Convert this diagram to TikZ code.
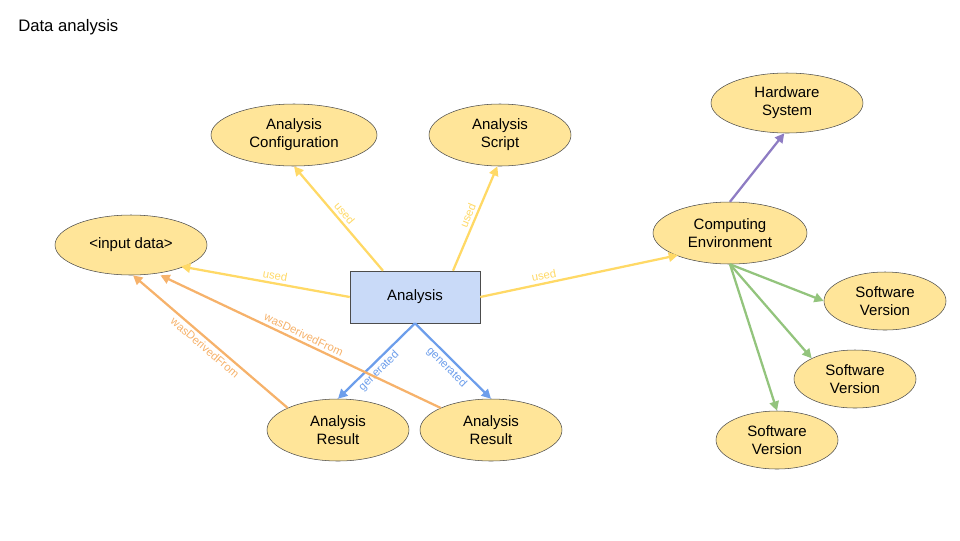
\documentclass[tikz,border=0pt]{standalone}
\usepackage{fontspec}
\setmainfont{Liberation Sans}
\usetikzlibrary{arrows.meta}
\usetikzlibrary{shapes.geometric}
\definecolor{ellfill}{HTML}{FFE599}
\definecolor{anafill}{HTML}{C9DAF8}
\definecolor{cused}{HTML}{FFD966}
\definecolor{cgen}{HTML}{6D9EEB}
\definecolor{cderiv}{HTML}{F6B26B}
\definecolor{chw}{HTML}{8E7CC3}
\definecolor{csw}{HTML}{93C47D}
\tikzset{
  ent/.style={ellipse, draw=black!70, fill=ellfill, align=center, inner sep=0pt, font=\fontsize{11.25}{13.5}\selectfont},
  act/.style={rectangle, draw=black!70, fill=anafill, font=\fontsize{11.25}{13.5}\selectfont},
  rel/.style={-{Triangle[length=7pt,width=7pt]}, line width=1.7pt},
  lbl/.style={font=\fontsize{8.5}{10}\selectfont, sloped, above, inner sep=2pt}
}
\begin{document}
\begin{tikzpicture}[x=0.75pt, y=-0.75pt]
  \useasboundingbox (0,0) rectangle (960,540);
  \node [anchor=west, inner sep=0pt, font=\fontsize{12.5}{15}\selectfont] (title) at (18,27) {Data analysis};
  % entities
  \node [ent, minimum width=124.5pt, minimum height=46.5pt] (conf) at (294,135) {Analysis\\Configuration};
  \node [ent, minimum width=106.5pt, minimum height=46.5pt] (script) at (500,135) {Analysis\\Script};
  \node [ent, minimum width=114pt, minimum height=45pt] (input) at (131,245) {<input data>};
  \node [act, minimum width=97.5pt, minimum height=39pt] (ana) at (415,297) {Analysis};
  \node [ent, minimum width=115.5pt, minimum height=46.5pt] (comp) at (730,233) {Computing\\Environment};
  \node [ent, minimum width=114pt, minimum height=45pt] (hw) at (787,103) {Hardware\\System};
  \node [ent, minimum width=91.5pt, minimum height=43.5pt] (swa) at (885,301) {Software\\Version};
  \node [ent, minimum width=91.5pt, minimum height=43.5pt] (swb) at (855,379) {Software\\Version};
  \node [ent, minimum width=91.5pt, minimum height=43.5pt] (swc) at (777,440) {Software\\Version};
  \node [ent, minimum width=106.5pt, minimum height=46.5pt] (resa) at (338,430) {Analysis\\Result};
  \node [ent, minimum width=106.5pt, minimum height=46.5pt] (resb) at (491,430) {Analysis\\Result};
  % used
  \draw [rel, cused] ([xshift=-24pt]ana.north) -- (conf.south) node [lbl, pos=0.5, above] {used};
  \draw [rel, cused] ([xshift=28.5pt]ana.north) -- ([xshift=-2pt]script.south) node [lbl, pos=0.5, above] {used};
  \draw [rel, cused] (ana.west) -- ([xshift=-3pt]input.south east) node [lbl, pos=0.45] {used};
  \draw [rel, cused] (ana.east) -- ([xshift=2pt]comp.south west) node [lbl, pos=0.33] {used};
  % environment
  \draw [rel, chw] (comp.north) -- ([xshift=-2pt]hw.south);
  \draw [rel, csw] (comp.south) -- (swa.west);
  \draw [rel, csw] (comp.south) -- (swb.north west);
  \draw [rel, csw] (comp.south) -- (swc.north);
  % generated
  \draw [rel, cgen] (ana.south) -- (resa.north) node [lbl, pos=0.55, below] {generated};
  \draw [rel, cgen] (ana.south) -- (resb.north) node [lbl, pos=0.5, below] {generated};
  % derived
  \draw [rel, cderiv] (resa.north west) -- ([xshift=1.5pt]input.south) node [lbl, pos=0.5, below] {wasDerivedFrom};
  \draw [rel, cderiv] (resb.north west) -- ([xshift=22pt]input.south) node [lbl, pos=0.5, above] {wasDerivedFrom};
\end{tikzpicture}
\end{document}
